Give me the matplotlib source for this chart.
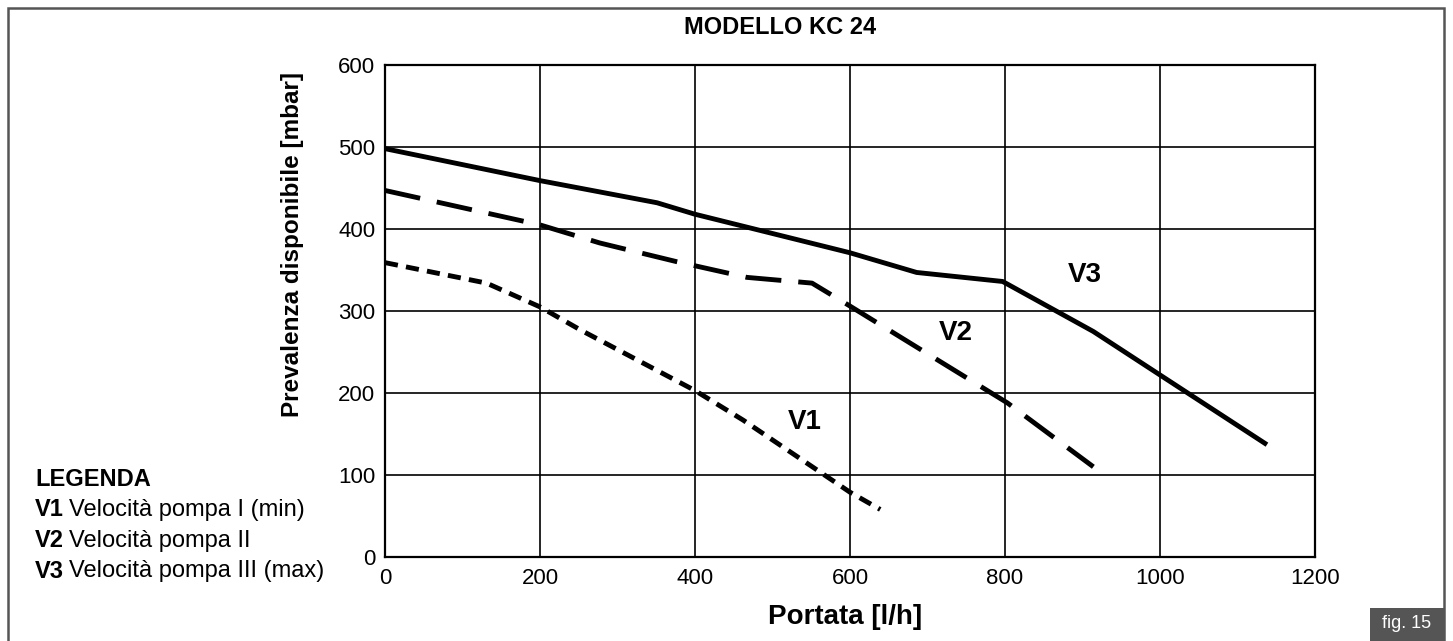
import matplotlib.pyplot as plt
from matplotlib.patches import Rectangle

plt.rcParams['font.family'] = ['Liberation Sans', 'DejaVu Sans']

# Curve data: portata [l/h] vs prevalenza [mbar]
x_v1 = [0, 131, 200, 252, 400, 462, 600, 639]
y_v1 = [359, 334, 305, 277, 203, 167, 79, 58]

x_v2 = [0, 200, 277, 377, 467, 551, 600, 803, 914]
y_v2 = [447, 405, 383, 360, 341, 334, 306, 188, 110]

x_v3 = [0, 200, 351, 400, 600, 686, 797, 914, 1000, 1138]
y_v3 = [498, 459, 432, 418, 371, 347, 336, 275, 222, 137]

xticks = [0, 200, 400, 600, 800, 1000, 1200]
yticks = [0, 100, 200, 300, 400, 500, 600]

legend_lines = [("V1", "Velocità pompa I (min)"),
                ("V2", "Velocità pompa II"),
                ("V3", "Velocità pompa III (max)")]

W, H = 1453, 641
fig = plt.figure(figsize=(W / 100, H / 100), dpi=100)
ax = fig.add_axes([385 / W, 1 - 557 / H, 930 / W, 492 / H])

lw = 3.5
ax.plot(x_v3, y_v3, color="black", lw=lw, solid_capstyle="butt", zorder=3)
ax.plot(x_v2, y_v2, color="black", lw=lw, dashes=(7.4, 3.5), zorder=3)
ax.plot(x_v1, y_v1, color="black", lw=lw, dashes=(2.7, 1.7), zorder=3)

ax.set_xlim(0, 1200)
ax.set_ylim(0, 600)
ax.set_xticks(xticks)
ax.set_yticks(yticks)
ax.tick_params(length=0, labelsize=16)
ax.tick_params(axis="x", pad=8)
ax.tick_params(axis="y", pad=7)
ax.grid(True, color="black", lw=1.2)
ax.set_axisbelow(True)
for s in ax.spines.values():
    s.set_linewidth(1.6)

# axis titles and chart title
fig.text(845 / W, 1 - 617 / H, "Portata [l/h]", fontsize=20, fontweight="bold", ha="center", va="center")
fig.text(293 / W, 1 - 245 / H, "Prevalenza disponibile [mbar]", fontsize=17.5, fontweight="bold",
         rotation=90, ha="center", va="center")
fig.text(780 / W, 1 - 28 / H, "MODELLO KC 24", fontsize=17, fontweight="bold", ha="center", va="center")

# curve labels (data coords)
ax.text(542, 165, "V1", fontsize=20, fontweight="bold", ha="center", va="center")
ax.text(736, 273, "V2", fontsize=20, fontweight="bold", ha="center", va="center")
ax.text(903, 344, "V3", fontsize=20, fontweight="bold", ha="center", va="center")

# legend block on the left
fig.text(35 / W, 1 - 480 / H, "LEGENDA", fontsize=17, fontweight="bold", va="center")
for i, (k, desc) in enumerate(legend_lines):
    yy = 1 - (510 + i * 30.5) / H
    t = fig.text(35 / W, yy, k, fontsize=17, fontweight="bold", va="center")
    fig.canvas.draw()
    bb = t.get_window_extent()
    fig.text((bb.x1 + 5) / W, yy, desc, fontsize=17, va="center")

# outer frame and figure tag
fig.patches.append(Rectangle((8 / W, -0.1), 1436 / W, 1.1 - 8 / H, transform=fig.transFigure,
                             fill=False, edgecolor="#555555", lw=1.8))
fig.patches.append(Rectangle((1370 / W, 0), 74 / W, 33 / H, transform=fig.transFigure,
                             facecolor="#555555", edgecolor="none"))
fig.text(1407 / W, 17 / H, "fig. 15", color="white", fontsize=13, ha="center", va="center")

fig.savefig("out.png", dpi=100)
